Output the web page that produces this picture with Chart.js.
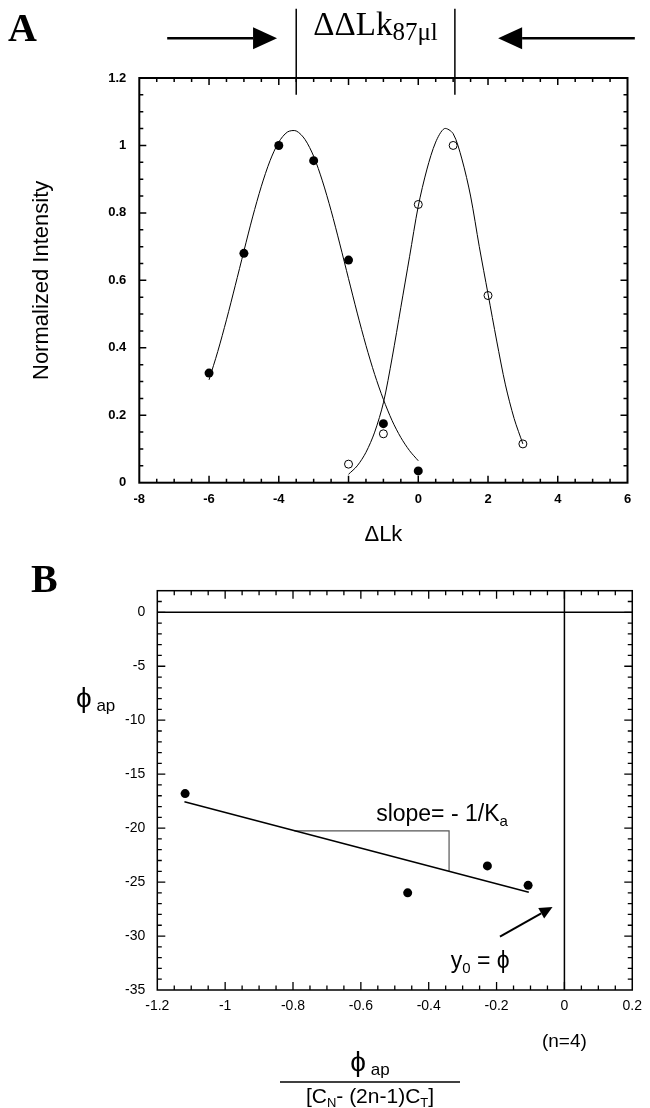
<!doctype html>
<html lang="en">
<head>
<meta charset="utf-8">
<title>Topoisomer distribution and phi_ap plot</title>
<style>
  body { margin: 0; background: white; }
  canvas { position: absolute; left: 0; }
  #chartA { top: 0; }
  #chartB { top: 560px; }
</style>
</head>
<body>
<canvas id="chartA" width="650" height="560"></canvas>
<canvas id="chartB" width="650" height="548"></canvas>

<script src="https://cdn.jsdelivr.net/npm/chart.js@4"></script>
<script>
// ---- panel A: normalized band intensity vs ΔLk ----
const lkFilledX = [-6, -5, -4, -3, -2, -1, 0];
const lkFilledY = [0.325, 0.68, 1.0, 0.955, 0.66, 0.175, 0.035];
const lkOpenX = [-2, -1, 0, 1, 2, 3];
const lkOpenY = [0.055, 0.145, 0.825, 1.0, 0.555, 0.115];

// fitted curves
const fitFilledX = [-6, -5.75, -5.5, -5.25, -5, -4.75, -4.5, -4.25, -4, -3.75, -3.5, -3.25, -3,
  -2.75, -2.5, -2.25, -2, -1.75, -1.5, -1.25, -1, -0.75, -0.5, -0.25, 0];
const fitFilledY = [0.305, 0.389, 0.483, 0.584, 0.687, 0.788, 0.879, 0.955, 1.010, 1.040, 1.043, 1.018, 0.968,
  0.895, 0.807, 0.708, 0.605, 0.503, 0.407, 0.321, 0.247, 0.184, 0.134, 0.095, 0.065];
const fitOpenX = [-2, -1.75, -1.5, -1.25, -1, -0.75, -0.5, -0.25, 0, 0.25, 0.5, 0.75, 1,
  1.25, 1.5, 1.75, 2, 2.25, 2.5, 2.75, 3];
const fitOpenY = [0.025, 0.05, 0.09, 0.15, 0.237, 0.37, 0.52, 0.67, 0.82, 0.93, 1.01, 1.05, 1.035,
  0.96, 0.85, 0.70, 0.56, 0.42, 0.29, 0.19, 0.115];

const peakLines = [-3.5, 1.05];
const xTicksA = [-8, -6, -4, -2, 0, 2, 4, 6];
const xLabelsA = ['-8', '-6', '-4', '-2', '0', '2', '4', '6'];
const yTicksA = [0, 0.2, 0.4, 0.6, 0.8, 1, 1.2];
const yLabelsA = ['0', '0.2', '0.4', '0.6', '0.8', '1', '1.2'];

// ---- panel B: phi_ap vs phi_ap/[CN-(2n-1)CT] ----
const phiX = [-1.118, -0.462, -0.227, -0.107];
const phiY = [-16.8, -26.0, -23.5, -25.3];
const fitLineX = [-1.12, -0.105];
const fitLineY = [-17.55, -25.95];
const slopeX = [-0.796, -0.34, -0.34];
const slopeY = [-20.25, -20.25, -24.0];
const xTicksB = [-1.2, -1, -0.8, -0.6, -0.4, -0.2, 0, 0.2];
const xLabelsB = ['-1.2', '-1', '-0.8', '-0.6', '-0.4', '-0.2', '0', '0.2'];
const yTicksB = [-35, -30, -25, -20, -15, -10, -5, 0];
const yLabelsB = ['-35', '-30', '-25', '-20', '-15', '-10', '-5', '0'];

const SANS = '"Liberation Sans", Arial, Helvetica, sans-serif';
const SERIF = '"Liberation Serif", "Times New Roman", serif';

const pts = (xs, ys) => xs.map((x, i) => ({ x: x, y: ys[i] }));

function drawArrow(ctx, x1, y1, x2, y2, head, half, width) {
    const ang = Math.atan2(y2 - y1, x2 - x1);
    const bx = x2 - head * Math.cos(ang), by = y2 - head * Math.sin(ang);
    ctx.lineWidth = width;
    ctx.beginPath(); ctx.moveTo(x1, y1); ctx.lineTo(bx, by); ctx.stroke();
    ctx.beginPath();
    ctx.moveTo(x2, y2);
    ctx.lineTo(bx + half * Math.sin(ang), by - half * Math.cos(ang));
    ctx.lineTo(bx - half * Math.sin(ang), by + half * Math.cos(ang));
    ctx.closePath();
    ctx.fill();
}

// text made of pieces (for subscripts)
function drawRuns(ctx, runs, x, y, align) {
    let total = 0;
    runs.forEach(r => { ctx.font = r.font; r.w = ctx.measureText(r.text).width; total += r.w; });
    let cx = align === 'center' ? x - total / 2 : x;
    ctx.textAlign = 'left';
    ctx.textBaseline = 'alphabetic';
    runs.forEach(r => { ctx.font = r.font; ctx.fillText(r.text, cx, y + (r.dy || 0)); cx += r.w; });
}

// box frame with inward ticks on all four sides
const frameTicks = {
    id: 'frameTicks',
    afterDraw(chart, args, o) {
        const { ctx, chartArea: a, scales: { x, y } } = chart;
        ctx.save();
        ctx.strokeStyle = 'black';
        ctx.lineWidth = o.tickWidth;
        ctx.beginPath();
        let n = Math.round((x.max - x.min) / o.xMinor);
        for (let i = 1; i < n; i++) {
            const v = x.min + i * o.xMinor;
            const len = Math.abs(v / o.xMajor - Math.round(v / o.xMajor)) < 1e-6 ? o.major : o.minor;
            const px = x.getPixelForValue(v);
            ctx.moveTo(px, a.bottom); ctx.lineTo(px, a.bottom - len);
            ctx.moveTo(px, a.top); ctx.lineTo(px, a.top + len);
        }
        n = Math.round((y.max - y.min) / o.yMinor);
        for (let i = 1; i < n; i++) {
            const v = y.min + i * o.yMinor;
            const len = Math.abs(v / o.yMajor - Math.round(v / o.yMajor)) < 1e-6 ? o.major : o.minor;
            const py = y.getPixelForValue(v);
            ctx.moveTo(a.left, py); ctx.lineTo(a.left + len, py);
            ctx.moveTo(a.right, py); ctx.lineTo(a.right - len, py);
        }
        ctx.stroke();
        ctx.lineWidth = o.width;
        ctx.strokeRect(a.left, a.top, a.right - a.left, a.bottom - a.top);
        ctx.restore();
    }
};

// panel A header: letter, arrows, ΔΔLk bracket
const panelAExtras = {
    id: 'panelAExtras',
    afterDraw(chart) {
        const { ctx, scales: { x, y } } = chart;
        ctx.save();
        ctx.fillStyle = 'black';
        ctx.strokeStyle = 'black';
        ctx.font = 'bold 40px ' + SERIF;
        ctx.textAlign = 'left';
        ctx.fillText('A', 8, 41);

        ctx.lineWidth = 1.5;
        peakLines.forEach(v => {
            const px = x.getPixelForValue(v);
            ctx.beginPath();
            ctx.moveTo(px, y.getPixelForValue(1.405));
            ctx.lineTo(px, y.getPixelForValue(1.15));
            ctx.stroke();
        });
        const ay = y.getPixelForValue(1.318);
        drawArrow(ctx, x.getPixelForValue(-7.2), ay, x.getPixelForValue(-4.05), ay, 24, 11, 2.5);
        drawArrow(ctx, x.getPixelForValue(6.21), ay, x.getPixelForValue(2.29), ay, 24, 11, 2.5);

        const mid = (x.getPixelForValue(peakLines[0]) + x.getPixelForValue(peakLines[1])) / 2;
        drawRuns(ctx, [
            { text: 'ΔΔLk', font: '33px ' + SERIF },
            { text: '87μl', font: '25px ' + SERIF, dy: 5 }
        ], mid, 35, 'center');
        ctx.restore();
    }
};

// panel B: letter, axis titles, annotations
const panelBExtras = {
    id: 'panelBExtras',
    afterDraw(chart) {
        const { ctx, scales: { x, y } } = chart;
        ctx.save();
        ctx.fillStyle = 'black';
        ctx.strokeStyle = 'black';
        ctx.font = 'bold 40px ' + SERIF;
        ctx.textAlign = 'left';
        ctx.fillText('B', 31, 32);

        // y title
        drawRuns(ctx, [
            { text: 'ϕ', font: '28px ' + SANS },
            { text: ' ap', font: '17px ' + SANS, dy: 4 }
        ], 76, 147, 'left');

        drawRuns(ctx, [
            { text: 'slope= - 1/K', font: '23px ' + SANS },
            { text: 'a', font: '15px ' + SANS, dy: 5 }
        ], x.getPixelForValue(-0.555), y.getPixelForValue(-19.3), 'left');

        drawRuns(ctx, [
            { text: 'y', font: '23px ' + SANS },
            { text: '0', font: '15px ' + SANS, dy: 5 },
            { text: ' = ϕ', font: '23px ' + SANS }
        ], x.getPixelForValue(-0.335), y.getPixelForValue(-33.0), 'left');

        drawArrow(ctx, x.getPixelForValue(-0.19), y.getPixelForValue(-30.05),
            x.getPixelForValue(-0.035), y.getPixelForValue(-27.3), 13, 6, 2);

        ctx.font = '19px ' + SANS;
        ctx.textAlign = 'center';
        ctx.textBaseline = 'middle';
        ctx.fillText('(n=4)', x.getPixelForValue(0), 482);

        // x title as a fraction
        const fx = 370;
        drawRuns(ctx, [
            { text: 'ϕ', font: '28px ' + SANS },
            { text: ' ap', font: '17px ' + SANS, dy: 4 }
        ], fx, 511, 'center');
        ctx.lineWidth = 1.3;
        ctx.beginPath(); ctx.moveTo(280, 522); ctx.lineTo(460, 522); ctx.stroke();
        drawRuns(ctx, [
            { text: '[C', font: '21px ' + SANS },
            { text: 'N', font: '13px ' + SANS, dy: 4 },
            { text: '- (2n-1)C', font: '21px ' + SANS },
            { text: 'T', font: '13px ' + SANS, dy: 4 },
            { text: ']', font: '21px ' + SANS }
        ], fx, 543, 'center');
        ctx.restore();
    }
};

const lineStyle = { showLine: true, borderColor: 'black', borderWidth: 1, pointRadius: 0, fill: false };

new Chart(document.getElementById('chartA'), {
    type: 'scatter',
    data: {
        datasets: [
            Object.assign({ data: pts(fitFilledX, fitFilledY), tension: 0.3 }, lineStyle),
            Object.assign({ data: pts(fitOpenX, fitOpenY), tension: 0.3 }, lineStyle),
            {
                data: pts(lkFilledX, lkFilledY), pointRadius: 4.5,
                backgroundColor: 'black', borderColor: 'black', borderWidth: 0
            },
            {
                data: pts(lkOpenX, lkOpenY), pointRadius: 4,
                backgroundColor: 'rgba(0,0,0,0)', borderColor: 'black', borderWidth: 1
            }
        ]
    },
    options: {
        responsive: false,
        animation: false,
        layout: { padding: { left: 0, top: 78, right: 22.5, bottom: 0 } },
        plugins: {
            legend: { display: false },
            tooltip: { enabled: false },
            frameTicks: { xMinor: 0.5, xMajor: 2, yMinor: 0.05, yMajor: 0.2, major: 7, minor: 4, width: 2, tickWidth: 1.5 }
        },
        scales: {
            x: {
                type: 'linear', min: -8, max: 6,
                afterBuildTicks: s => { s.ticks = xTicksA.map(v => ({ value: v })); },
                afterFit: s => { s.height = 77.3; },
                grid: { display: false, drawTicks: false },
                border: { display: false },
                ticks: {
                    color: 'black', padding: 9, maxRotation: 0, autoSkip: false,
                    font: { family: SANS, size: 13, weight: 'bold' },
                    callback: (v, i) => xLabelsA[i]
                },
                title: {
                    display: true, text: 'ΔLk', color: 'black',
                    font: { family: SANS, size: 22 }, padding: { top: 0, bottom: 12 }
                }
            },
            y: {
                type: 'linear', min: 0, max: 1.2,
                afterBuildTicks: s => { s.ticks = yTicksA.map(v => ({ value: v })); },
                afterFit: s => { s.width = 139.3; },
                grid: { display: false, drawTicks: false },
                border: { display: false },
                ticks: {
                    color: 'black', padding: 13, autoSkip: false,
                    font: { family: SANS, size: 13, weight: 'bold' },
                    callback: (v, i) => yLabelsA[i]
                },
                title: {
                    display: true, text: 'Normalized Intensity', color: 'black',
                    font: { family: SANS, size: 22 }, padding: { top: 29, bottom: 0 }
                }
            }
        }
    },
    plugins: [frameTicks, panelAExtras]
});

new Chart(document.getElementById('chartB'), {
    type: 'scatter',
    data: {
        datasets: [
            Object.assign({}, lineStyle, { data: pts([-1.2, 0.2], [0, 0]), borderWidth: 1.5 }),
            Object.assign({}, lineStyle, { data: pts([0, 0], [-35, 2]), borderWidth: 1.5 }),
            Object.assign({}, lineStyle, { data: pts(fitLineX, fitLineY), borderWidth: 1.5 }),
            Object.assign({}, lineStyle, { data: pts(slopeX, slopeY), borderColor: '#555', borderWidth: 1.2 }),
            {
                data: pts(phiX, phiY), pointRadius: 4.5,
                backgroundColor: 'black', borderColor: 'black', borderWidth: 0
            }
        ]
    },
    options: {
        responsive: false,
        animation: false,
        layout: { padding: { left: 0, top: 30.7, right: 10.5, bottom: 0 } },
        plugins: {
            legend: { display: false },
            tooltip: { enabled: false },
            frameTicks: { xMinor: 0.05, xMajor: 0.2, yMinor: 1, yMajor: 5, major: 8, minor: 4.5, width: 1.5, tickWidth: 1.3 }
        },
        scales: {
            x: {
                type: 'linear', min: -1.2, max: 0.2,
                afterBuildTicks: s => { s.ticks = xTicksB.map(v => ({ value: v })); },
                afterFit: s => { s.height = 118; },
                grid: { display: false, drawTicks: false },
                border: { display: false },
                ticks: {
                    color: 'black', padding: 8, maxRotation: 0, autoSkip: false,
                    font: { family: SANS, size: 14 },
                    callback: (v, i) => xLabelsB[i]
                }
            },
            y: {
                type: 'linear', min: -35, max: 2,
                afterBuildTicks: s => { s.ticks = yTicksB.map(v => ({ value: v })); },
                afterFit: s => { s.width = 157.3; },
                grid: { display: false, drawTicks: false },
                border: { display: false },
                ticks: {
                    color: 'black', padding: 12, autoSkip: false,
                    font: { family: SANS, size: 14 },
                    callback: (v, i) => yLabelsB[i]
                }
            }
        }
    },
    plugins: [frameTicks, panelBExtras]
});
</script>
</body>
</html>
